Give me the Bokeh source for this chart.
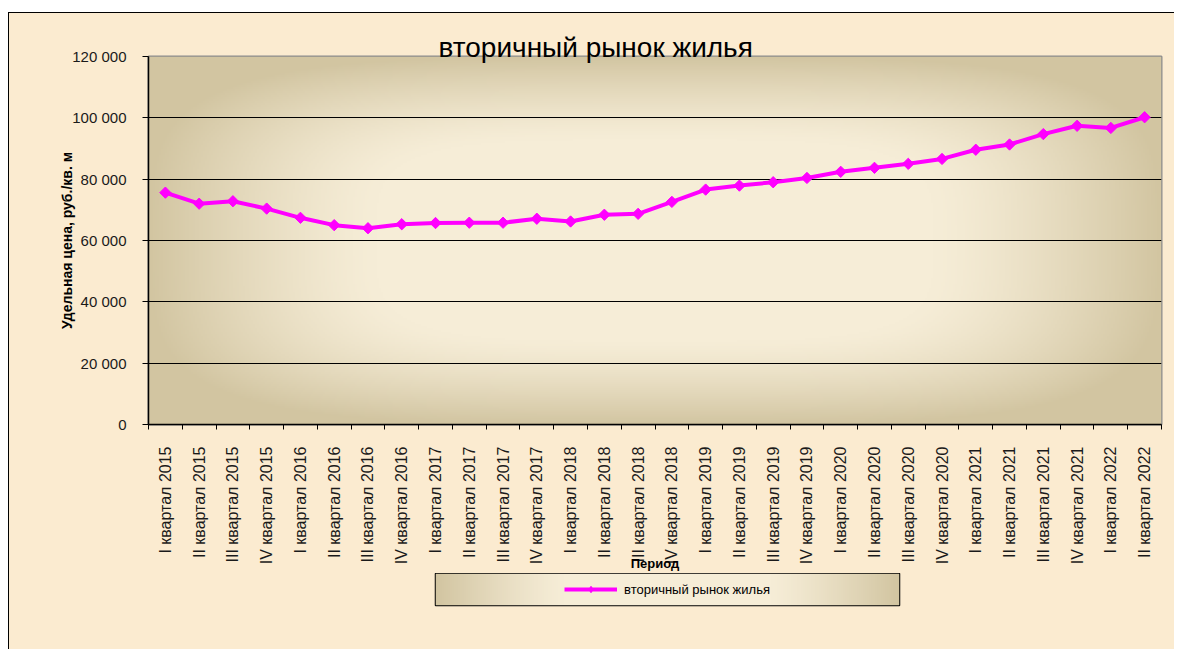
import numpy as np
from bokeh.plotting import figure
from bokeh.models import (Range1d, FixedTicker, Legend, LegendItem,
                          ColumnDataSource, Spacer)
from bokeh.layouts import column, row
from bokeh.embed import file_html
from bokeh.resources import INLINE

# ---------------- data ----------------
periods = [
    "I квартал 2015", "II квартал 2015", "III квартал 2015", "IV квартал 2015",
    "I квартал 2016", "II квартал 2016", "III квартал 2016", "IV квартал 2016",
    "I квартал 2017", "II квартал 2017", "III квартал 2017", "IV квартал 2017",
    "I квартал 2018", "II квартал 2018", "III квартал 2018", "IV квартал 2018",
    "I квартал 2019", "II квартал 2019", "III квартал 2019", "IV квартал 2019",
    "I квартал 2020", "II квартал 2020", "III квартал 2020", "IV квартал 2020",
    "I квартал 2021", "II квартал 2021", "III квартал 2021", "IV квартал 2021",
    "I квартал 2022", "II квартал 2022",
]
prices = [
    75600, 72000, 72800, 70400,
    67400, 65000, 64000, 65300,
    65700, 65800, 65800, 67100,
    66200, 68400, 68700, 72600,
    76600, 77900, 79000, 80400,
    82400, 83700, 85000, 86600,
    89600, 91300, 94700, 97400,
    96700, 100200,
]
y_ticks = [0, 20000, 40000, 60000, 80000, 100000, 120000]
y_tick_labels = ["0", "20 000", "40 000", "60 000", "80 000", "100 000", "120 000"]

series_name = "вторичный рынок жилья"
title_text = "вторичный рынок жилья"
y_title = "Удельная цена, руб./кв. м"
x_title = "Период"

FONT = "Liberation Sans"
MAGENTA = "#FF00FF"
CREAM = "#FBEBD0"
LIGHT = np.array([246, 237, 215], dtype=float)
TAN = np.array([210, 197, 161], dtype=float)


def gradient_image(ny, nx, s):
    rgb = LIGHT[None, None, :] * (1 - s[..., None]) + TAN[None, None, :] * s[..., None]
    img = np.empty((ny, nx), dtype=np.uint32)
    view = img.view(dtype=np.uint8).reshape((ny, nx, 4))
    for k in range(3):
        view[..., k] = rgb[..., k].astype(np.uint8)
    view[..., 3] = 255
    return img


# ---------------- main figure ----------------
n = len(periods)
centers = [i + 0.5 for i in range(n)]

p = figure(width=1166, height=561,
           x_range=Range1d(0, n), y_range=Range1d(0, 120000),
           output_backend="svg", toolbar_location=None,
           min_border_left=139, min_border_right=14,
           min_border_top=43, min_border_bottom=150,
           border_fill_color=CREAM, background_fill_color="#F3EBD6")
p.frame_align = False
p.styles = {"border-top": "1px solid #000", "border-left": "1px solid #000"}

# title
p.title.text = title_text
p.title.align = "left"
p.title.offset = 290
p.title.standoff = -12
p.title.text_font = FONT
p.title.text_font_size = "28px"
p.title.text_font_style = "normal"
p.title.text_color = "#000000"

# background gradient of plotting area (style only)
p.extra_x_ranges = {"bg": Range1d(0, 1)}
p.extra_y_ranges = {"bg": Range1d(0, 1)}
ny, nx = 184, 506
yy, xx = np.mgrid[0:ny, 0:nx]
ax = np.abs((xx + 0.5) / nx - 0.5) / 0.5
ay = np.abs((yy + 0.5) / ny - 0.5) / 0.5
t = (ax ** 4 + ay ** 4) ** 0.25
s = np.clip((t - 0.55) / 0.45, 0, 1) ** 1.3
p.image_rgba(image=[gradient_image(ny, nx, s)], x=0, y=0, dw=1, dh=1,
             x_range_name="bg", y_range_name="bg", level="image")

# grid / outline
p.xgrid.visible = False
p.ygrid.ticker = FixedTicker(ticks=y_ticks)
p.ygrid.grid_line_color = "#000000"
p.ygrid.grid_line_width = 1
p.outline_line_color = "#8C8C8C"
p.outline_line_width = 2

# y axis
ya = p.yaxis[0]
ya.ticker = FixedTicker(ticks=y_ticks)
ya.major_label_overrides = dict(zip(y_ticks, y_tick_labels))
ya.major_tick_out = 6
ya.major_tick_in = 0
ya.minor_tick_out = 0
ya.minor_tick_in = 0
ya.major_label_standoff = 16
ya.axis_line_color = "#000000"
ya.axis_line_width = 1.5
ya.major_tick_line_color = "#000000"
ya.major_label_text_font = FONT
ya.major_label_text_font_size = "15px"
ya.major_label_text_color = "#1A1A1A"
ya.axis_label = y_title
ya.axis_label_standoff = -6
ya.axis_label_text_font = FONT
ya.axis_label_text_font_size = "14px"
ya.axis_label_text_font_style = "bold"
ya.axis_label_text_color = "#000000"

# x axis
xa = p.xaxis[0]
xa.ticker = FixedTicker(ticks=centers, minor_ticks=list(range(n + 1)))
xa.major_label_overrides = dict(zip(centers, periods))
xa.major_tick_out = 0
xa.major_tick_in = 0
xa.major_tick_line_color = None
xa.minor_tick_out = 5
xa.minor_tick_in = 0
xa.minor_tick_line_color = "#000000"
xa.major_label_orientation = np.pi / 2
xa.major_label_standoff = 17
xa.axis_line_color = "#000000"
xa.axis_line_width = 1.5
xa.major_label_text_font = FONT
xa.major_label_text_font_size = "16px"
xa.major_label_text_color = "#1A1A1A"
xa.axis_label = x_title
xa.axis_label_standoff = -11
xa.axis_label_text_font = FONT
xa.axis_label_text_font_size = "13px"
xa.axis_label_text_font_style = "bold"
xa.axis_label_text_color = "#000000"

# data
src = ColumnDataSource(dict(x=centers, y=prices))
line_style = dict(line_color=MAGENTA, line_width=4)
p.line("x", "y", source=src, **line_style)
p.scatter("x", "y", source=src, marker="square", angle=np.pi / 4, size=8,
          fill_color=MAGENTA, line_color=MAGENTA)

# ---------------- legend strip (second figure, same background) ----------------
p2 = figure(width=1166, height=76, x_range=Range1d(0, 1), y_range=Range1d(0, 1),
            output_backend="svg", toolbar_location=None,
            x_axis_type=None, y_axis_type=None,
            min_border_left=426, min_border_right=276,
            min_border_top=0, min_border_bottom=44,
            border_fill_color=CREAM, background_fill_color="#E7DDC2")
p2.frame_align = False
p2.styles = {"border-left": "1px solid #000"}
p2.grid.visible = False
p2.outline_line_color = "#000000"
p2.outline_line_width = 1.5

lny, lnx = 8, 232
_, lxx = np.mgrid[0:lny, 0:lnx]
lax = np.abs((lxx + 0.5) / lnx - 0.5) / 0.5
ls = np.clip((lax - 0.45) / 0.55, 0, 1) ** 1.2
p2.image_rgba(image=[gradient_image(lny, lnx, ls)], x=0, y=0, dw=1, dh=1, level="image")

# legend proxies (no visible data, same styles as the series)
leg_src = ColumnDataSource(dict(x=[np.nan], y=[np.nan]))
leg_line = p2.line("x", "y", source=leg_src, **line_style)
leg_pts = p2.scatter("x", "y", source=leg_src, marker="diamond", size=11,
                     fill_color=MAGENTA, line_color=MAGENTA)
legend = Legend(items=[LegendItem(label=series_name, renderers=[leg_line, leg_pts])],
                location="center", orientation="horizontal",
                glyph_width=53, glyph_height=16, label_standoff=7,
                padding=0, margin=0, border_line_color=None,
                background_fill_alpha=0,
                label_text_font=FONT, label_text_font_size="13px",
                label_text_color="#000000")
p2.add_layout(legend)

stack = column(p, p2, styles={"background-color": CREAM})
layout = column(Spacer(height=12), row(Spacer(width=8), stack))
open("out.html", "w").write(file_html(layout, INLINE))
